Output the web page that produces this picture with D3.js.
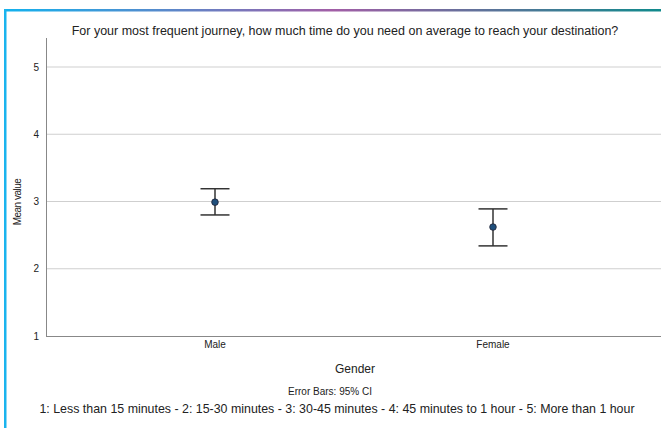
<!DOCTYPE html>
<html><head><meta charset="utf-8">
<script src="https://cdn.jsdelivr.net/npm/d3@7"></script>
<style>body{margin:0;background:#fff}svg{display:block}text{font-family:"Liberation Sans",Arial,sans-serif;fill:#222}</style>
</head><body>
<script>
const categories = ["Male", "Female"];
const means = [2.99, 2.62];
const lowerCI = [2.80, 2.34];
const upperCI = [3.19, 2.89];
const yTicks = [1, 2, 3, 4, 5];
const title = "For your most frequent journey, how much time do you need on average to reach your destination?";
const footnote = "1: Less than 15 minutes - 2: 15-30 minutes - 3: 30-45 minutes - 4: 45 minutes to 1 hour - 5: More than 1 hour";

const W = 661, H = 428;
const svg = d3.select("body").append("svg").attr("width", W).attr("height", H);

// frame
const defs = svg.append("defs");
const g1 = defs.append("linearGradient").attr("id", "tg").attr("x1", "0%").attr("x2", "100%");
g1.append("stop").attr("offset", "0%").attr("stop-color", "#12b2ee");
g1.append("stop").attr("offset", "50%").attr("stop-color", "#a25ea6");
g1.append("stop").attr("offset", "100%").attr("stop-color", "#108a8c");
svg.append("rect").attr("x", 4).attr("y", 9).attr("width", W - 4).attr("height", 2.5).attr("fill", "url(#tg)");
svg.append("rect").attr("x", 4).attr("y", 9).attr("width", 2.5).attr("height", H - 9).attr("fill", "#1ab4ee");

const x0 = 46, x1 = W, yTop = 38, yBot = 336;
const y = d3.scaleLinear().domain([1, 5]).range([yBot, 67]);
const x = d3.scaleBand().domain(categories).range([76, 632]);

// gridlines
svg.append("g").selectAll("line").data(yTicks.slice(1)).join("line")
  .attr("x1", x0).attr("x2", x1).attr("y1", d => y(d)).attr("y2", d => y(d))
  .attr("stroke", "#cfcfcf").attr("stroke-width", 1);

// y axis
const yAxis = svg.append("g").attr("transform", `translate(${x0},0)`)
  .call(d3.axisLeft(y).tickValues(yTicks).tickSize(0).tickPadding(7).tickFormat(d3.format("d")));
yAxis.select(".domain").remove();
yAxis.selectAll("text").style("font-size", "10px").attr("fill", "#222");
svg.append("line").attr("x1", x0 + 0.5).attr("x2", x0 + 0.5).attr("y1", yTop).attr("y2", yBot)
  .attr("stroke", "#888");
// x axis
svg.append("line").attr("x1", x0).attr("x2", x1).attr("y1", yBot + 0.5).attr("y2", yBot + 0.5)
  .attr("stroke", "#888");
const xAxis = svg.append("g").attr("transform", `translate(0,${yBot})`)
  .call(d3.axisBottom(x).tickSize(0).tickPadding(5));
xAxis.select(".domain").remove();
xAxis.selectAll("text").style("font-size", "10px").attr("fill", "#222");

// error bars
const data = categories.map((c, i) => ({c, m: means[i], lo: lowerCI[i], hi: upperCI[i]}));
const eb = svg.append("g").selectAll("g").data(data).join("g")
  .attr("transform", d => `translate(${x(d.c) + x.bandwidth() / 2},0)`);
eb.append("line").attr("y1", d => y(d.lo)).attr("y2", d => y(d.hi)).attr("stroke", "#333").attr("stroke-width", 1.5);
eb.append("line").attr("x1", -14.5).attr("x2", 14.5).attr("y1", d => y(d.hi)).attr("y2", d => y(d.hi)).attr("stroke", "#333").attr("stroke-width", 1.5);
eb.append("line").attr("x1", -14.5).attr("x2", 14.5).attr("y1", d => y(d.lo)).attr("y2", d => y(d.lo)).attr("stroke", "#333").attr("stroke-width", 1.5);
eb.append("circle").attr("cy", d => y(d.m)).attr("r", 3.3).attr("fill", "#1f4f7c").attr("stroke", "#223").attr("stroke-width", 0.8);

// texts
svg.append("text").attr("x", 345).attr("y", 35).attr("text-anchor", "middle").style("font-size", "12.5px").text(title);
svg.append("text").attr("transform", "translate(21,202) rotate(-90)").attr("text-anchor", "middle")
  .style("font-size", "10px").style("letter-spacing", "-0.5px").text("Mean value");
svg.append("text").attr("x", 355).attr("y", 373).attr("text-anchor", "middle").style("font-size", "12px").text("Gender");
svg.append("text").attr("x", 330).attr("y", 395).attr("text-anchor", "middle").style("font-size", "10px").text("Error Bars: 95% CI");
svg.append("text").attr("x", 337).attr("y", 413).attr("text-anchor", "middle").style("font-size", "12.4px").text(footnote);
</script>
</body></html>
